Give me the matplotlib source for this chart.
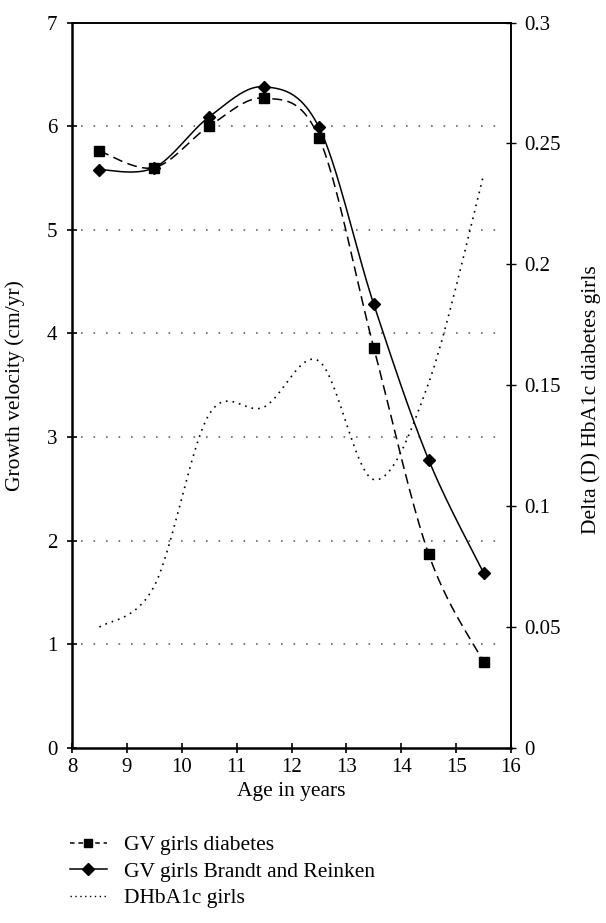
import numpy as np
import matplotlib
matplotlib.use("Agg")
from matplotlib import pyplot as plt

# values
age = [8.5, 9.5, 10.5, 11.5, 12.5, 13.5, 14.5, 15.5]
gv_diabetes = [5.76, 5.60, 6.00, 6.27, 5.89, 3.86, 1.87, 0.83]
gv_brandt = [5.58, 5.60, 6.09, 6.38, 5.99, 4.28, 2.78, 1.69]
dhba1c = [0.050, 0.067, 0.138, 0.141, 0.160, 0.111, 0.151, 0.237]

x_ticks = [8, 9, 10, 11, 12, 13, 14, 15, 16]
left_ticks = [0, 1, 2, 3, 4, 5, 6, 7]
right_ticks = [0, 0.05, 0.1, 0.15, 0.2, 0.25, 0.3]
right_labels = ["0", "0.05", "0.1", "0.15", "0.2", "0.25", "0.3"]


def smooth(xs, ys, n=40):
    # excel style smoothed line (bezier through the points)
    p = np.column_stack([xs, ys]).astype(float)
    ext = np.vstack([p[0], p, p[-1]])
    out = []
    t = np.linspace(0, 1, n)[:, None]
    for i in range(len(p) - 1):
        p0, p1 = ext[i + 1], ext[i + 2]
        c1 = p0 + (ext[i + 2] - ext[i]) / 6.0
        c2 = p1 - (ext[i + 3] - ext[i + 1]) / 6.0
        seg = ((1 - t) ** 3) * p0 + 3 * ((1 - t) ** 2) * t * c1 + 3 * (1 - t) * t ** 2 * c2 + t ** 3 * p1
        out.append(seg if i == 0 else seg[1:])
    out = np.vstack(out)
    return out[:, 0], out[:, 1]


plt.rcParams['font.family'] = ['Liberation Serif', 'DejaVu Serif']
fs = 15
fs_lab = 15.5

fig = plt.figure(figsize=(6.06, 9.23), dpi=100)
ax = fig.add_axes([72 / 606, 1 - 748 / 923, 439 / 606, 725.5 / 923])
ax2 = ax.twinx()

ax.set_xlim(8, 16)
ax.set_ylim(0, 7)
ax2.set_ylim(0, 0.3)

for y in left_ticks[1:-1]:
    ax.axhline(y, xmin=0.02, xmax=0.975, color='#666666', lw=1.2,
               linestyle=(0, (1, 6.5)), zorder=1)

sx, sy = smooth(age, gv_diabetes)
ax.plot(sx, sy, color='black', lw=1.1, linestyle=(0, (6.5, 3.5)), zorder=3)
ax.plot(age, gv_diabetes, 's', color='black', ms=7, zorder=4)

sx, sy = smooth(age, gv_brandt)
ax.plot(sx, sy, color='black', lw=1.1, zorder=3)
ax.plot(age, gv_brandt, 'D', color='black', ms=6.5, zorder=4)

sx, sy = smooth(age, dhba1c)
ax2.plot(sx, sy, color='black', lw=1.2, linestyle=(0, (1, 3)), zorder=3)

# legend handles
h1, = ax.plot([], [], color='black', lw=1.1, linestyle=(0, (3, 2.5)), marker='s', ms=6)
h2, = ax.plot([], [], color='black', lw=1.1, marker='D', ms=6)
h3, = ax.plot([], [], color='black', lw=1.0, linestyle=(0, (1, 2.5)))
fig.legend([h1, h2, h3], ["GV girls diabetes", "GV girls Brandt and Reinken", "DHbA1c girls"],
           loc='upper left', bbox_to_anchor=(70 / 606, 1 - 835 / 923), frameon=False,
           fontsize=fs_lab, handlelength=1.7, handletextpad=0.8, labelspacing=0.3,
           borderpad=0, borderaxespad=0)

ax.set_xticks(x_ticks)
ax.set_yticks(left_ticks)
ax2.set_yticks(right_ticks)
ax2.set_yticklabels(right_labels)

ax.tick_params(axis='both', direction='inout', length=7, width=1.2, labelsize=fs, pad=4)
ax.tick_params(axis='y', pad=7)
ax2.tick_params(axis='y', direction='inout', length=7, width=1.0, labelsize=fs, pad=6)

for s in ['left', 'bottom']:
    ax.spines[s].set_linewidth(1.8)
for s in ['top', 'right']:
    ax.spines[s].set_linewidth(1.2)
    ax2.spines[s].set_linewidth(1.2)
ax2.spines['left'].set_visible(False)
ax2.spines['bottom'].set_visible(False)

ax.set_xlabel("Age in years", fontsize=fs_lab, labelpad=3)
ax.set_ylabel("Growth velocity (cm/yr)", fontsize=fs_lab)
ax.yaxis.set_label_coords(-0.108, 0.5)
ax2.set_ylabel("Delta (D) HbA1c diabetes girls", fontsize=fs_lab, rotation=90)
ax2.yaxis.set_label_coords(1.16, 0.48)

fig.savefig("out.png", dpi=100)
